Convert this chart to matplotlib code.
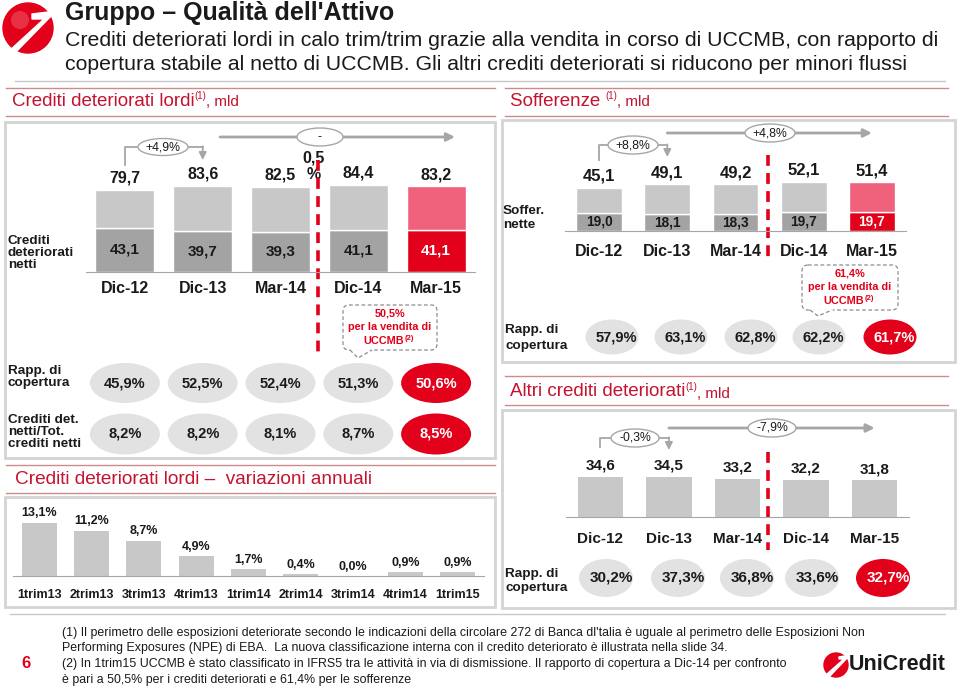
import matplotlib
matplotlib.use("Agg")
import matplotlib.pyplot as plt
from matplotlib.patches import Ellipse, Rectangle, FancyBboxPatch, Circle, Polygon

plt.rcParams['font.family'] = ['Liberation Sans', 'DejaVu Sans']

# --- data ---
periods = ['Dic-12', 'Dic-13', 'Mar-14', 'Dic-14', 'Mar-15']
lordi = [79.7, 83.6, 82.5, 84.4, 83.2]
lordi_netti = [43.1, 39.7, 39.3, 41.1, 41.1]
lordi_copertura = [45.9, 52.5, 52.4, 51.3, 50.6]
netti_su_tot = [8.2, 8.2, 8.1, 8.7, 8.5]
lordi_var = ['+4,9%', '-0,5%']

sofferenze = [45.1, 49.1, 49.2, 52.1, 51.4]
soff_nette = [19.0, 18.1, 18.3, 19.7, 19.7]
soff_copertura = [57.9, 63.1, 62.8, 62.2, 61.7]
soff_var = ['+8,8%', '+4,8%']

altri = [34.6, 34.5, 33.2, 32.2, 31.8]
altri_copertura = [30.2, 37.3, 36.8, 33.6, 32.7]
altri_var = ['-0,3%', '-7,9%']

trimestri = ['1trim13', '2trim13', '3trim13', '4trim13', '1trim14',
             '2trim14', '3trim14', '4trim14', '1trim15']
var_annuali = [13.1, 11.2, 8.7, 4.9, 1.7, 0.4, 0.0, 0.9, 0.9]

# --- colours ---
RED = '#e2001a'
PINK = '#f0627c'
TITLE_RED = '#c4122f'
LIGHT = '#c8c8c8'
DARK = '#a3a3a3'
PILL = '#e2e2e2'
ARROW = '#a6a6a6'
LINE_RED = '#cf8a8a'

W, H = 960, 688
fig = plt.figure(figsize=(9.6, 6.88), dpi=100)
bg = fig.add_axes([0, 0, 1, 1])
bg.set_xlim(0, W)
bg.set_ylim(H, 0)
bg.axis('off')


def fmt(v, pct=False):
    s = f"{v:.1f}".replace('.', ',')
    return s + '%' if pct else s


def bar_axes(x0, x1, y_top, y_base, n, scale):
    ax = fig.add_axes([x0 / W, 1 - y_base / H, (x1 - x0) / W, (y_base - y_top) / H])
    ax.set_facecolor('none')
    ax.set_xlim(-0.5, n - 0.5)
    ax.set_ylim(0, (y_base - y_top) / scale)
    for s in ['top', 'right', 'left']:
        ax.spines[s].set_visible(False)
    ax.spines['bottom'].set_color('#a6a6a6')
    ax.set_yticks([])
    ax.tick_params(axis='x', length=0, colors='#1a1a1a')
    centers = [x0 + (i + 0.5) * (x1 - x0) / n for i in range(n)]
    return ax, centers


def header(x, y, main, sup='(1)', tail=', mld', size=13.5):
    t = bg.text(x, y, main, color=TITLE_RED, fontsize=size, va='center')
    if sup:
        s = bg.annotate(sup, xy=(1, 0.78), xycoords=t, fontsize=7, color=TITLE_RED,
                        va='center', ha='left')
        bg.annotate(tail, xy=(1, 0), xycoords=(s, t), fontsize=11, color=TITLE_RED,
                    va='bottom', ha='left')


def red_lines(x0, x1, ys):
    for y in ys:
        bg.plot([x0, x1], [y, y], color=LINE_RED, lw=1)


def box(x0, y0, x1, y1):
    bg.add_patch(Rectangle((x0, y0), x1 - x0, y1 - y0, facecolor='none',
                           edgecolor='#d4d4d4', lw=2))


def row_label(x, y, txt, ls=1.1):
    bg.text(x, y, txt, fontsize=9.7, fontweight='bold', va='center', ha='left',
            linespacing=ls, color='#1a1a1a')


def pills(y, xs, vals, w, h, fs, dx=0):
    n = len(vals)
    for i, (x, v) in enumerate(zip(xs, vals)):
        last = i == n - 1
        bg.add_patch(Ellipse((x, y), w, h, facecolor=RED if last else PILL, edgecolor='none'))
        bg.text(x + dx, y, fmt(v, True), ha='center', va='center', fontsize=fs,
                fontweight='bold', color='white' if last else '#1a1a1a')


def bracket(xa, xb, y_low, y_top, y_end, label, ex, ew=50, eh=18):
    bg.plot([xa, xa, xb], [y_low, y_top, y_top], color=ARROW, lw=1.3)
    bg.annotate('', xy=(xb, y_end), xytext=(xb, y_top - 0.6),
                arrowprops=dict(arrowstyle='-|>', color=ARROW, lw=1.3,
                                shrinkA=0, shrinkB=0, mutation_scale=11))
    bg.add_patch(Ellipse((ex, y_top), ew, eh, facecolor='white', edgecolor=ARROW, lw=1, zorder=3))
    bg.text(ex, y_top, label, ha='center', va='center', fontsize=8.8, zorder=4, color='#1a1a1a')


def long_arrow(xa, xb, y, label, ex, ew=50, eh=18):
    bg.annotate('', xy=(xb, y), xytext=(xa, y),
                arrowprops=dict(arrowstyle='-|>', color=ARROW, lw=2,
                                shrinkA=0, shrinkB=0, mutation_scale=12))
    bg.add_patch(Ellipse((ex, y), ew, eh, facecolor='white', edgecolor=ARROW, lw=1, zorder=3))
    if label is not None:
        bg.text(ex, y, label, ha='center', va='center', fontsize=8.8, zorder=4, color='#1a1a1a')


def red_dash(x, y0, y1):
    bg.plot([x, x], [y0, y1], color=RED, lw=2.6, dashes=(3, 2), zorder=5)


def callout(x0, y0, x1, y1, base, tip, lines):
    bg.add_patch(FancyBboxPatch((x0, y0), x1 - x0, y1 - y0,
                                boxstyle='round,pad=0,rounding_size=6', facecolor='white',
                                edgecolor='#8c8c8c', lw=0.9, ls=(0, (3, 2)), zorder=3))
    bg.plot([base[0] + 1, base[1] - 1], [y1, y1], color='white', lw=2, zorder=4)
    bg.plot([base[0], tip[0], base[1]], [y1, tip[1], y1], color='#8c8c8c', lw=0.9,
            dashes=(3, 2), zorder=4)
    yc = (y0 + y1) / 2
    bg.text((x0 + x1) / 2, yc - 14, lines[0], ha='center', va='center',
            fontsize=7.8, fontweight='bold', color=RED, zorder=5)
    bg.text((x0 + x1) / 2, yc, lines[1], ha='center', va='center',
            fontsize=7.8, fontweight='bold', color=RED, zorder=5)
    t3 = bg.text((x0 + x1) / 2 - 6, yc + 14, 'UCCMB', ha='center', va='center',
                 fontsize=7.8, fontweight='bold', color=RED, zorder=5)
    bg.annotate('(2)', xy=(1, 0.75), xycoords=t3, fontsize=5.5, fontweight='bold',
                color=RED, va='center', ha='left', zorder=5)


# --- title area ---
bg.add_patch(Circle((28, 28), 25, color=RED))
bg.add_patch(Circle((20, 20), 9, color='#f48a95', alpha=0.35, lw=0))
bg.add_patch(Polygon([(32, 14), (56, 11), (13, 55), (8, 52), (44, 19), (32, 19)],
                     closed=True, color='white'))
bg.text(65, 13, "Gruppo – Qualità dell'Attivo", fontsize=18, fontweight='bold',
        va='center', ha='left', color='#1a1a1a')
bg.text(65, 40, "Crediti deteriorati lordi in calo trim/trim grazie alla vendita in corso di UCCMB, con rapporto di",
        fontsize=15.3, va='center', ha='left', color='#1a1a1a')
bg.text(65, 65, "copertura stabile al netto di UCCMB. Gli altri crediti deteriorati si riducono per minori flussi",
        fontsize=15.3, va='center', ha='left', color='#1a1a1a')
bg.plot([15, 945], [81, 81], color='#c8c8c8', lw=1)

# section headers
red_lines(6, 495, [88, 116])
red_lines(505, 948, [88, 116])
header(12, 101, 'Crediti deteriorati lordi')
header(510, 101, 'Sofferenze ')
red_lines(505, 948, [376, 405])
header(510, 392, 'Altri crediti deteriorati')
red_lines(6, 495, [465, 493])
bg.text(15, 479, 'Crediti deteriorati lordi –  variazioni annuali', color=TITLE_RED,
        fontsize=13.7, va='center')

box(5, 122, 495, 458)
box(5, 497, 495, 607)
box(502, 120, 955, 362)
box(502, 410, 955, 608)

# --- panel A: crediti deteriorati lordi ---
axA, cA = bar_axes(86, 475, 150, 272, len(periods), 1.03)
xs = range(len(periods))
dark_cols = [DARK] * (len(periods) - 1) + [RED]
light_cols = [LIGHT] * (len(periods) - 1) + [PINK]
axA.bar(xs, lordi_netti, width=0.76, color=dark_cols, edgecolor='white', lw=1)
axA.bar(xs, [t - n for t, n in zip(lordi, lordi_netti)], bottom=lordi_netti, width=0.76,
        color=light_cols, edgecolor='white', lw=1)
for i, (t, n) in enumerate(zip(lordi, lordi_netti)):
    axA.annotate(fmt(t), (i, t), xytext=(0, 3), textcoords='offset points', ha='center',
                 va='bottom', fontsize=11.5, fontweight='bold', color='#1a1a1a')
    axA.text(i, n / 2, fmt(n), ha='center', va='center', fontsize=11, fontweight='bold',
             color='white' if i == len(periods) - 1 else '#1a1a1a')
axA.set_xticks(list(xs), periods, fontsize=11.5, fontweight='bold')
axA.tick_params(axis='x', pad=6.5)

row_label(8, 253, 'Crediti\ndeteriorati\nnetti', ls=1.05)
bracket(cA[0], cA[1], 165, 147, 160, lordi_var[0], 163, ew=50, eh=17)
long_arrow(220, 455, 137, lordi_var[1][0], 320, ew=46, eh=18)
bg.text(314, 166, lordi_var[1][1:-1] + '\n' + lordi_var[1][-1], ha='center', va='center',
        fontsize=11.5, fontweight='bold', linespacing=1.15, color='#1a1a1a')
red_dash(318, 160, 357)
callout(343, 305, 437, 350, (350, 372), (358, 358), ['50,5%', 'per la vendita di'])

row_label(8, 377, 'Rapp. di\ncopertura', ls=1.05)
pills(383, cA, lordi_copertura, 70, 40, 10.5)
row_label(8, 432, 'Crediti det.\nnetti/Tot.\ncrediti netti', ls=1.0)
pills(434, cA, netti_su_tot, 70, 41, 10.5)

# --- panel D: variazioni annuali ---
axD, cD = bar_axes(13, 484, 505, 576, len(trimestri), 4.05)
xd = range(len(trimestri))
axD.bar(xd, var_annuali, width=0.67, color=LIGHT)
for i, v in enumerate(var_annuali):
    axD.annotate(fmt(v, True), (i, v), xytext=(0, 2.5), textcoords='offset points',
                 ha='center', va='bottom', fontsize=9, fontweight='bold', color='#1a1a1a')
axD.set_xticks(list(xd), trimestri, fontsize=9, fontweight='bold')
axD.tick_params(axis='x', pad=9.4)

# --- panel B: sofferenze ---
axB, cB = bar_axes(565, 906, 150, 231, len(periods), 0.95)
axB.bar(xs, soff_nette, width=0.67, color=dark_cols, edgecolor='white', lw=1)
axB.bar(xs, [t - n for t, n in zip(sofferenze, soff_nette)], bottom=soff_nette, width=0.67,
        color=light_cols, edgecolor='white', lw=1)
for i, (t, n) in enumerate(zip(sofferenze, soff_nette)):
    axB.annotate(fmt(t), (i, t), xytext=(0, 3), textcoords='offset points', ha='center',
                 va='bottom', fontsize=12, fontweight='bold', color='#1a1a1a')
    axB.text(i, n / 2, fmt(n), ha='center', va='center', fontsize=9.8, fontweight='bold',
             color='white' if i == len(periods) - 1 else '#1a1a1a')
axB.set_xticks(list(xs), periods, fontsize=11.5, fontweight='bold')
axB.tick_params(axis='x', pad=9.4)

row_label(503, 218, 'Soffer.\nnette', ls=1.25)
bracket(cB[0], cB[1], 160, 145, 157, soff_var[0], 633)
long_arrow(cB[1], cB[4], 133, soff_var[1], 770)
red_dash(768, 155, 258)
callout(802, 265, 898, 310, (810, 832), (818, 316), ['61,4%', 'per la vendita di'])
row_label(505, 338, 'Rapp. di\ncopertura', ls=1.4)
pills(337, [612, 681, 751, 819, 890], soff_copertura, 53, 35, 10.5, dx=4)

# --- panel C: altri crediti deteriorati ---
axC, cC = bar_axes(566, 909, 440, 517, len(periods), 1.156)
axC.bar(xs, altri, width=0.66, color=LIGHT)
for i, v in enumerate(altri):
    axC.annotate(fmt(v), (i, v), xytext=(0, 3), textcoords='offset points', ha='center',
                 va='bottom', fontsize=11, fontweight='bold', color='#1a1a1a')
axC.set_xticks(list(xs), periods, fontsize=11, fontweight='bold')
axC.tick_params(axis='x', pad=10.5)

bracket(cC[0], cC[1], 447, 438, 450, altri_var[0], 635, ew=48)
long_arrow(cC[1], cC[4], 428, altri_var[1], 772, ew=48)
red_dash(768, 452, 550)
row_label(505, 581, 'Rapp. di\ncopertura', ls=1.15)
pills(578, [606, 678, 747, 812, 883], altri_copertura, 54, 38, 11, dx=5)

# --- footer ---
bg.plot([10, 945], [614, 614], color='#c8c8c8', lw=1)
bg.text(26, 664, '6', color=RED, fontsize=12, fontweight='bold', ha='center', va='center')
notes = [
    "(1) Il perimetro delle esposizioni deteriorate secondo le indicazioni della circolare 272 di Banca dl'talia è uguale al perimetro delle Esposizioni Non",
    "Performing Exposures (NPE) di EBA.  La nuova classificazione interna con il credito deteriorato è illustrata nella slide 34.",
    "(2) In 1trim15 UCCMB è stato classificato in IFRS5 tra le attività in via di dismissione. Il rapporto di copertura a Dic-14 per confronto",
    "è pari a 50,5% per i crediti deteriorati e 61,4% per le sofferenze",
]
for k, line in enumerate(notes):
    bg.text(62, 633 + k * 15.5, line, fontsize=8.95, va='center', ha='left', color='#1a1a1a')

bg.add_patch(Circle((836, 665), 12, color=RED))
bg.add_patch(Polygon([(839, 657), (850, 655), (830, 676), (827, 674), (844, 659), (839, 659)],
                     closed=True, color='white'))
bg.text(849, 665, 'UniCredit', fontsize=15.5, fontweight='bold', va='center', ha='left',
        color='#1a1a1a')

fig.savefig('out.png', dpi=100)
